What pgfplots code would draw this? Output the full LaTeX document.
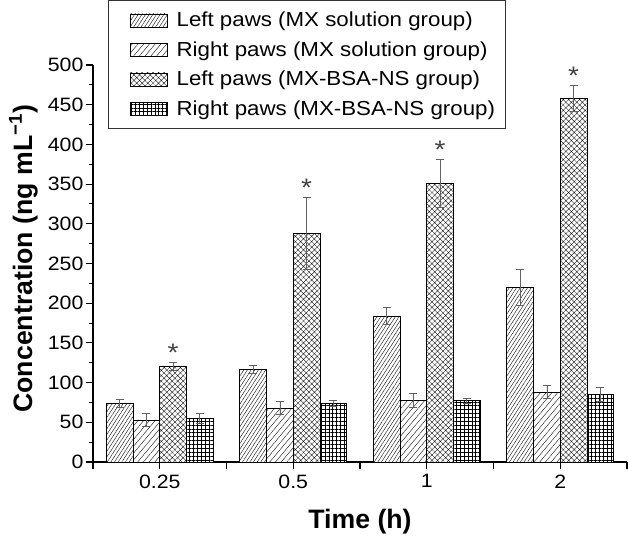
\documentclass[border=0pt]{standalone}
\usepackage{fontspec}
\setmainfont{Liberation Sans}[FakeStretch=1.1]
\newfontfamily\labelfont{Liberation Sans}
\usepackage{pgfplots}
\pgfplotsset{compat=1.18}
\usetikzlibrary{patterns.meta}

\definecolor{errgray}{gray}{0.38}

\pgfplotsset{
  mybar/.style={fill=white, draw=black, line width=0.6pt,
    legend image code/.code={\path (0pt,0pt);
      \draw[##1] (8.5pt,-4.9pt) rectangle (36.25pt,4.9pt);}},
}

\begin{document}
\begin{tikzpicture}
\begin{axis}[
  name=ax,
  width=400.5pt, height=297.75pt, scale only axis,
  ybar=0pt, bar width=0.2,
  xmin=-0.5, xmax=3.5, ymin=0, ymax=500,
  axis x line=bottom, axis y line=left,
  axis line style={-, line width=1pt},
  tick align=outside,
  xtick={-0.5,0,0.5,1,1.5,2,2.5,3,3.5},
  xticklabels={{},0.25,{},0.5,{},1,{},2,{}},
  ytick={0,50,100,150,200,250,300,350,400,450,500},
  minor y tick num=1,
  major tick length=5.5pt, minor tick length=3pt,
  tick style={line width=0.8pt, black},
  ticklabel style={font=\fontsize{14.5}{16}\selectfont, inner sep=1.5pt},
  xticklabel style={yshift=-2.25pt},
  /pgf/number format/assume math mode=true,
  xlabel={Time (h)},
  ylabel={Concentration (ng mL\textsuperscript{−1})},
  every axis x label/.style={at={(axis description cs:0.5,0)}, anchor=base,
    yshift=-49.5pt, font=\labelfont\bfseries\fontsize{20}{24}\selectfont},
  every axis y label/.style={at={(axis description cs:-0.1142,0.512)}, rotate=90,
    anchor=base, font=\labelfont\bfseries\fontsize{20}{24}\selectfont},
  legend style={at={(0.0281,1.1637)}, anchor=north west, draw=black!80,
    line width=1pt, font=\fontsize{15.2}{17}\selectfont,
    inner xsep=7.5pt, inner ysep=8pt, row sep=8.4pt,
    nodes={inner sep=0.6pt}, column sep=6pt},
  legend cell align=left,
  error bars/y dir=both, error bars/y explicit,
  error bars/error bar style={errgray, line width=0.5pt, solid},
  error bars/error mark options={errgray, rotate=90, mark size=3pt, line width=0.5pt, solid},
]
% Left paws (MX solution group)
\addplot[mybar,
  postaction={pattern={Lines[angle=57, distance=2.3pt, line width=0.28pt]}}]
  coordinates {(0,74) +- (0,5) (1,117) +- (0,5) (2,184) +- (0,11) (3,220) +- (0,23)};
% Right paws (MX solution group)
\addplot[mybar, dash pattern=on 3pt off 2pt,
  postaction={solid, pattern={Lines[angle=50, distance=3.3pt, line width=0.28pt]}}]
  coordinates {(0,53) +- (0,8) (1,68) +- (0,8) (2,78) +- (0,9) (3,88) +- (0,8)};
% Left paws (MX-BSA-NS group), * marks above the error bars
\addplot[mybar,
  postaction={pattern={Hatch[angle=45, distance=2.9pt, line width=0.25pt]}},
  nodes near coords={*},
  visualization depends on={\thisrow{e} \as \err},
  nodes near coords style={anchor=center, black!75, inner sep=0pt,
    font=\fontsize{19}{21}\selectfont, yshift=\err*0.5955pt+7.2pt}]
  table[x=x, y=y, y error=e] {
x y e
0 121 5
1 288 45
2 351 30
3 458 16
};
% Right paws (MX-BSA-NS group)
\addplot[mybar,
  postaction={pattern={Hatch[angle=0, distance=2.9pt, line width=0.25pt]}}]
  coordinates {(0,55) +- (0,6) (1,74) +- (0,4) (2,77) +- (0,3) (3,85) +- (0,9)};
\legend{Left paws (MX solution group), Right paws (MX solution group),
  Left paws (MX-BSA-NS group), Right paws (MX-BSA-NS group)}
\end{axis}
\pgfresetboundingbox
\path ([xshift=-69.75pt, yshift=-56.25pt]ax.south west)
  rectangle ([xshift=0.75pt, yshift=48.75pt]ax.north east);
\end{tikzpicture}
\end{document}
